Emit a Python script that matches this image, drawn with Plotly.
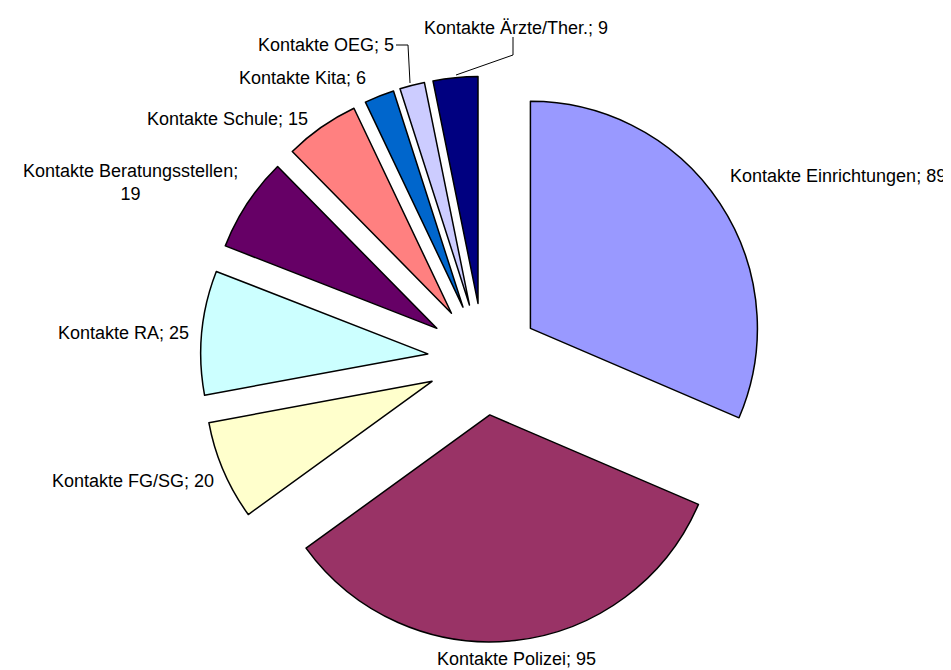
import plotly.graph_objects as go

labels = ["Kontakte Einrichtungen", "Kontakte Polizei", "Kontakte FG/SG", "Kontakte RA",
          "Kontakte Beratungsstellen", "Kontakte Schule", "Kontakte Kita", "Kontakte OEG",
          "Kontakte Ärzte/Ther."]
values = [89, 95, 20, 25, 19, 15, 6, 5, 9]
colors = ["#9999FF", "#993366", "#FFFFCC", "#CCFFFF", "#660066", "#FF8080",
          "#0066CC", "#CCCCFF", "#000080"]

# label placement (pixels: x, y-center, anchor); Beratungsstellen wraps to two lines
label_pos = [(720, 168, "left"), (508, 651, "center"), (208, 473, "right"),
             (183, 325, "right"), (122, 175, "center"), (302, 111, "right"),
             (360, 70, "right"), (388, 37, "right"), (508, 20, "center")]
leaders = [[(388, 37), (400, 37), (402, 75)],
           [(505, 29), (505, 47), (448, 67)]]

W, H = 951, 670
cx, cy, R, pull = 475.6, 351.2, 227, 0.247
box = 2 * R * (1 + pull)


def px(x):
    return x / W


def py(y):
    return 1 - y / H


fig = go.Figure(go.Pie(
    labels=labels, values=values, sort=False, direction="clockwise", rotation=0,
    marker=dict(colors=colors, line=dict(color="black", width=1.5)),
    pull=[pull] * len(values),
    textinfo="none",
    hoverinfo="label+value",
    domain=dict(x=[(cx - box / 2) / W, (cx + box / 2) / W],
                y=[(H - cy - box / 2) / H, (H - cy + box / 2) / H]),
    showlegend=False,
))

for lab, val, (x, y, anc) in zip(labels, values, label_pos):
    text = f"{lab}; {val}"
    if lab == "Kontakte Beratungsstellen":
        text = f"{lab};<br>{val}"
    fig.add_annotation(x=px(x), y=py(y), xref="paper", yref="paper", text=text,
                       showarrow=False, xanchor=anc, yanchor="middle", align="center",
                       font=dict(family="Liberation Sans, Arial, sans-serif", size=18,
                                 color="black"))

for pts in leaders:
    path = "M " + " L ".join(f"{px(x)},{py(y)}" for x, y in pts)
    fig.add_shape(type="path", path=path, xref="paper", yref="paper",
                  line=dict(color="black", width=1))

fig.update_layout(width=W, height=H, margin=dict(l=0, r=0, t=0, b=0),
                  paper_bgcolor="white", plot_bgcolor="white")
fig.write_html("out.html")
